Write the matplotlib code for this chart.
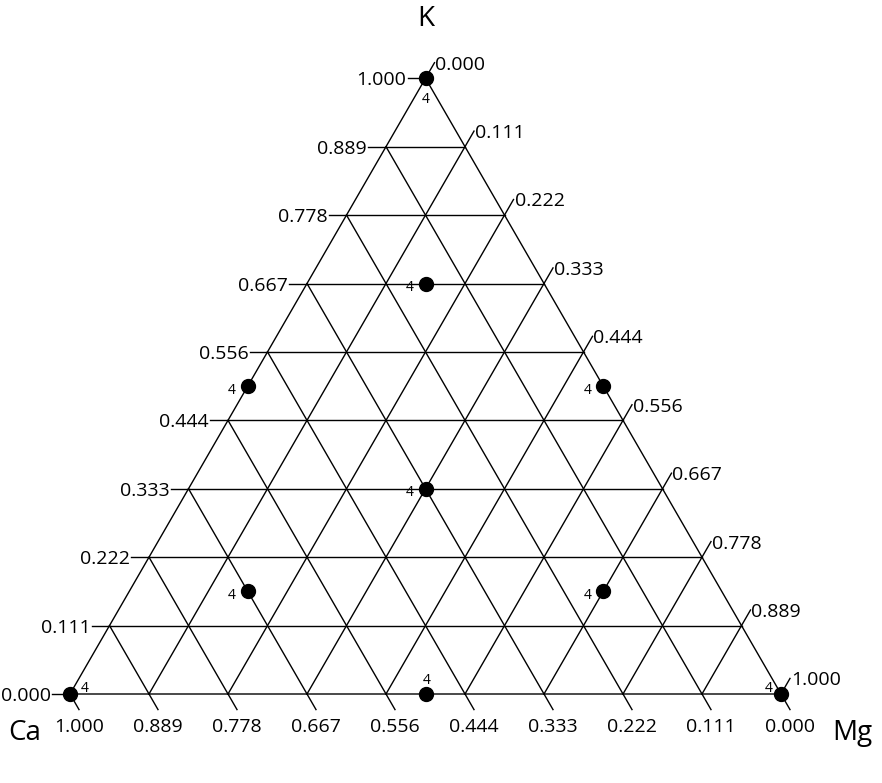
import numpy as np
import matplotlib.pyplot as plt

plt.rcParams['font.family'] = ['Open Sans', 'DejaVu Sans']

# design points as fractions (Ca, Mg, K)
ca = [0.0, 1/6, 0.5, 0.0, 1/3, 2/3, 1/6, 1.0, 0.5, 0.0]
mg = [0.0, 1/6, 0.0, 0.5, 1/3, 1/6, 2/3, 0.0, 0.5, 1.0]
k = [1.0, 2/3, 0.5, 0.5, 1/3, 1/6, 1/6, 0.0, 0.0, 0.0]
point_labels = ['4', '4', '4', '4', '4', '4', '4', '4', '4', '4']

# where each little label sits relative to its point (pixels)
label_offsets = [(0, -21), (-16, -4), (-16, -4), (-16, -4), (-16, -4),
                 (-16, -4), (-16, -4), (15, 6), (1, 13), (-12, 6)]

tick_labels = ['0.000', '0.111', '0.222', '0.333', '0.444',
               '0.556', '0.667', '0.778', '0.889', '1.000']
axis_names = ['Ca', 'Mg', 'K']

H = np.sqrt(3) / 2
S = 711.0  # pixels per unit side


def to_xy(c, m, kk):
    c, m, kk = np.asarray(c), np.asarray(m), np.asarray(kk)
    return m + kk / 2, kk * H


fig = plt.figure(figsize=(8.82, 7.83), dpi=100)
ax = fig.add_axes([0, 0, 1, 1])
ax.set_xlim(-70 / S, 812 / S)
ax.set_ylim(-89 / S, 694 / S)
ax.axis('off')

lw = 1.0
col = 'black'

# outline
ox, oy = to_xy([1, 0, 0, 1], [0, 1, 0, 0], [0, 0, 1, 0])
ax.plot(ox, oy, color=col, lw=lw)

# grid
steps = np.arange(10) / 9
for v in steps[1:-1]:
    x, y = to_xy([1 - v, 0], [0, 1 - v], [v, v])
    ax.plot(x, y, color=col, lw=lw)
    x, y = to_xy([1 - v, 0], [v, v], [0, 1 - v])
    ax.plot(x, y, color=col, lw=lw)
    x, y = to_xy([v, v], [1 - v, 0], [0, 1 - v])
    ax.plot(x, y, color=col, lw=lw)

L = 18 / S
g = 2 / S
fs = 14
for v, lab in zip(steps, tick_labels):
    # K axis, left edge
    x0, y0 = to_xy(1 - v, 0, v)
    ax.plot([x0, x0 - L], [y0, y0], color=col, lw=lw)
    ax.text(x0 - L - g / 2, y0, lab, ha='right', va='center_baseline',
            fontsize=fs)
    # Mg axis, right edge
    x0, y0 = to_xy(0, v, 1 - v)
    x1, y1 = x0 + L * 0.5, y0 + L * H
    ax.plot([x0, x1], [y0, y1], color=col, lw=lw)
    ax.text(x1 + g / 2, y1, lab, ha='left', va='center_baseline',
            fontsize=fs)
    # Ca axis, bottom edge
    x0, y0 = to_xy(v, 1 - v, 0)
    x1, y1 = x0 + L * 0.5, y0 - L * H
    ax.plot([x0, x1], [y0, y1], color=col, lw=lw)
    ax.text(x1, y1 - 4 * g, lab, ha='center', va='top', fontsize=fs)

# points
px, py = to_xy(ca, mg, k)
ax.plot(px, py, 'o', color=col, markersize=10, zorder=5)
for x, y, lab, (dx, dy) in zip(px, py, point_labels, label_offsets):
    ax.annotate(lab, (x, y), xytext=(dx * 0.72, dy * 0.72),
                textcoords='offset points', ha='center', va='center',
                fontsize=10)

# axis names at the corners
vx, vy = to_xy([1, 0, 0], [0, 1, 0], [0, 0, 1])
name_offsets = [(-45, -39), (71, -39), (0, 59)]
for x, y, name, (dx, dy) in zip(vx, vy, axis_names, name_offsets):
    ax.annotate(name, (x, y), xytext=(dx * 0.72, dy * 0.72),
                textcoords='offset points', ha='center', va='center',
                fontsize=20)

fig.savefig('out.png', dpi=100)
